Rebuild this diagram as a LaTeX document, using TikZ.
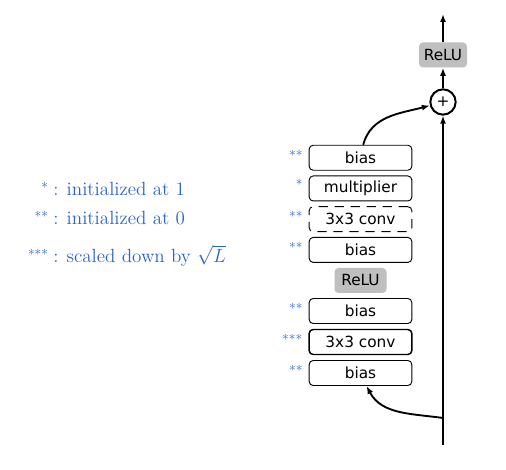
\documentclass[tikz,border=0pt]{standalone}
\usepackage{fontspec}
\newfontfamily\boxfont{DejaVu Sans}
\usepackage{tikz}
\usetikzlibrary{arrows.meta, positioning}
\definecolor{noteblue}{RGB}{45,100,195}
\tikzset{
  layer/.style={rectangle, rounded corners=3pt, draw=black, line width=0.7pt,
                minimum width=77pt, minimum height=18.75pt, inner sep=0pt,
                font=\boxfont\fontsize{11.5}{13}\selectfont},
  layerdash/.style={layer, dash pattern=on 7pt off 5pt},
  layerthick/.style={layer, line width=1.1pt},
  act/.style={rectangle, rounded corners=3pt, fill=black!25,
              minimum width=39pt, minimum height=18.75pt, inner sep=0pt,
              font=\boxfont\fontsize{11.5}{13}\selectfont},
  addop/.style={circle, draw=black, line width=1.5pt, minimum size=19pt,
                inner sep=0pt, font=\boxfont\fontsize{11.5}{13}\selectfont},
  stars/.style={text=noteblue, inner sep=0pt, anchor=base east,
                font=\fontsize{14}{16}\selectfont},
  note/.style={text=noteblue, inner sep=0pt, anchor=base west,
               font=\fontsize{14.3}{17}\selectfont},
  arrow/.style={-{Latex[length=6pt,width=4.5pt]}, line width=1.4pt},
  trunk/.style={arrow, line width=2pt},
}
\begin{document}
\begin{tikzpicture}[x=0.75pt, y=0.75pt, node distance=3.6pt]
  \useasboundingbox (0,0) rectangle (506,470);

  % Residual branch
  \node[layer] (bias1) at (360.5,97) {bias};
  \node[layerthick, above=of bias1] (conv1) {3x3 conv};
  \node[layer, above=of conv1] (bias2) {bias};
  \node[act, above=of bias2] (relu1) {ReLU};
  \node[layer, above=of relu1] (bias3) {bias};
  \node[layerdash, above=of bias3] (conv2) {3x3 conv};
  \node[layer, above=of conv2] (mult) {multiplier};
  \node[layer, above=of mult] (bias4) {bias};

  % Stars
  \node[stars] (st1) at ([xshift=-4pt]bias1.base west) {$^{**}$};
  \node[stars] (st2) at ([xshift=-4pt]conv1.base west) {$^{***}$};
  \node[stars] (st3) at ([xshift=-4pt]bias2.base west) {$^{**}$};
  \node[stars] (st4) at ([xshift=-4pt]bias3.base west) {$^{**}$};
  \node[stars] (st5) at ([xshift=-4pt]conv2.base west) {$^{**}$};
  \node[stars] (st6) at ([xshift=-4pt]mult.base west) {$^{*}$};
  \node[stars] (st7) at ([xshift=-4pt]bias4.base west) {$^{**}$};

  % Skip path
  \coordinate (base) at (443,25);
  \coordinate (split) at (443,52);
  \node[addop] (plus) at (443,368) {+};
  \node[act, minimum width=36pt] (relu2) at (443,415) {ReLU};
  \coordinate (top) at (443,456);

  \draw[trunk] (base) -- (plus);
  \draw[arrow] (split) to[out=172, in=-62] ([xshift=4.5pt]bias1.south);
  \draw[arrow] ([xshift=2pt]bias4.north) to[out=75, in=195] (plus);
  \draw[arrow] (plus) -- (relu2);
  \draw[arrow] (relu2) -- (top);

  % Legend
  \node[stars] (k1s) at (49,274.5) {$^{*}$};
  \node[note] (k1) at (53,274.5) {: initialized at 1};
  \node[stars] (k2s) at (49,245.5) {$^{**}$};
  \node[note] (k2) at (53,245.5) {: initialized at 0};
  \node[stars] (k3s) at (49,207.5) {$^{***}$};
  \node[note] (k3) at (53,207.5) {: scaled down by $\sqrt{L}$};
\end{tikzpicture}
\end{document}
